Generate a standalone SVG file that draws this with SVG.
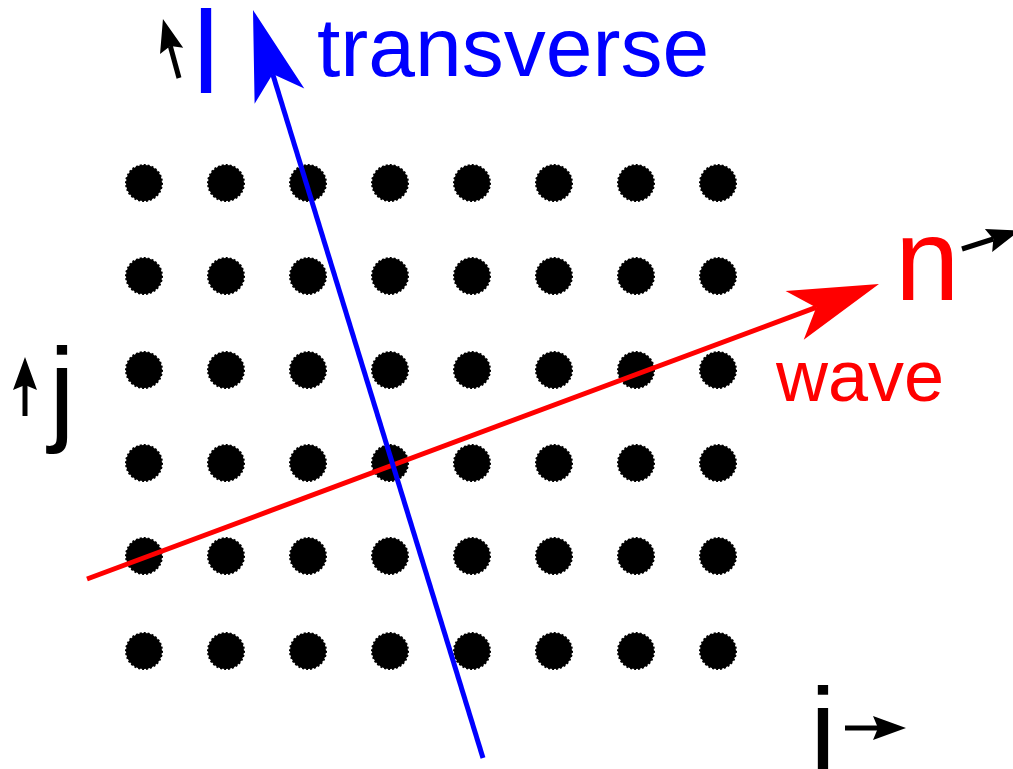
<svg xmlns="http://www.w3.org/2000/svg" width="1013" height="769" viewBox="0 0 1013 769">
<style>
.dot{fill:#000;stroke:#000;stroke-width:2;stroke-dasharray:2 2}
.lbl{font-family:"Liberation Sans",Arial,sans-serif}
.small{stroke:#000;stroke-width:5;fill:none}
</style>
<defs>
<marker id="bigRed" markerUnits="userSpaceOnUse" orient="auto" markerWidth="1" markerHeight="1" refX="0" refY="0" overflow="visible">
<path d="M0,0 L-23,-26 L67,0 L-23,26 Z" fill="#f00"/>
</marker>
<marker id="bigBlue" markerUnits="userSpaceOnUse" orient="auto" markerWidth="1" markerHeight="1" refX="0" refY="0" overflow="visible">
<path d="M0,0 L-23,-26 L67,0 L-23,26 Z" fill="#00f"/>
</marker>
<marker id="smallBlack" markerUnits="userSpaceOnUse" orient="auto" markerWidth="1" markerHeight="1" refX="0" refY="0" overflow="visible">
<path d="M0,0 L-5,-12 L28,0 L-5,12 Z" fill="#000"/>
</marker>
</defs>
<rect width="1013" height="769" fill="#fff"/>
<g id="lattice">
<circle class="dot" cx="144" cy="183" r="18"/><circle class="dot" cx="226" cy="183" r="18"/><circle class="dot" cx="308" cy="183" r="18"/><circle class="dot" cx="390" cy="183" r="18"/><circle class="dot" cx="472" cy="183" r="18"/><circle class="dot" cx="554" cy="183" r="18"/><circle class="dot" cx="636" cy="183" r="18"/><circle class="dot" cx="718" cy="183" r="18"/>
<circle class="dot" cx="144" cy="276" r="18"/><circle class="dot" cx="226" cy="276" r="18"/><circle class="dot" cx="308" cy="276" r="18"/><circle class="dot" cx="390" cy="276" r="18"/><circle class="dot" cx="472" cy="276" r="18"/><circle class="dot" cx="554" cy="276" r="18"/><circle class="dot" cx="636" cy="276" r="18"/><circle class="dot" cx="718" cy="276" r="18"/>
<circle class="dot" cx="144" cy="370" r="18"/><circle class="dot" cx="226" cy="370" r="18"/><circle class="dot" cx="308" cy="370" r="18"/><circle class="dot" cx="390" cy="370" r="18"/><circle class="dot" cx="472" cy="370" r="18"/><circle class="dot" cx="554" cy="370" r="18"/><circle class="dot" cx="636" cy="370" r="18"/><circle class="dot" cx="718" cy="370" r="18"/>
<circle class="dot" cx="144" cy="463" r="18"/><circle class="dot" cx="226" cy="463" r="18"/><circle class="dot" cx="308" cy="463" r="18"/><circle class="dot" cx="390" cy="463" r="18"/><circle class="dot" cx="472" cy="463" r="18"/><circle class="dot" cx="554" cy="463" r="18"/><circle class="dot" cx="636" cy="463" r="18"/><circle class="dot" cx="718" cy="463" r="18"/>
<circle class="dot" cx="144" cy="556" r="18"/><circle class="dot" cx="226" cy="556" r="18"/><circle class="dot" cx="308" cy="556" r="18"/><circle class="dot" cx="390" cy="556" r="18"/><circle class="dot" cx="472" cy="556" r="18"/><circle class="dot" cx="554" cy="556" r="18"/><circle class="dot" cx="636" cy="556" r="18"/><circle class="dot" cx="718" cy="556" r="18"/>
<circle class="dot" cx="144" cy="651" r="18"/><circle class="dot" cx="226" cy="651" r="18"/><circle class="dot" cx="308" cy="651" r="18"/><circle class="dot" cx="390" cy="651" r="18"/><circle class="dot" cx="472" cy="651" r="18"/><circle class="dot" cx="554" cy="651" r="18"/><circle class="dot" cx="636" cy="651" r="18"/><circle class="dot" cx="718" cy="651" r="18"/>
</g>
<g id="connectors">
<line x1="87" y1="579" x2="816.2" y2="307.4" stroke="#f00" stroke-width="5" marker-end="url(#bigRed)"/>
<line x1="483" y1="758" x2="272.7" y2="74.1" stroke="#00f" stroke-width="5" marker-end="url(#bigBlue)"/>
<line class="small" x1="179" y1="78" x2="170.3" y2="46" marker-end="url(#smallBlack)"/>
<line class="small" x1="25" y1="416" x2="25" y2="385" marker-end="url(#smallBlack)"/>
<line class="small" x1="845" y1="728" x2="878" y2="728" marker-end="url(#smallBlack)"/>
<line class="small" x1="962" y1="249" x2="993.3" y2="239" marker-end="url(#smallBlack)"/>
</g>
<g id="labels">
<text class="lbl" x="193" y="93" font-size="117" fill="#00f">l</text>
<text class="lbl" x="317" y="76" font-size="84" fill="#00f">transverse</text>
<text class="lbl" x="895" y="300" font-size="116" fill="#f00">n</text>
<text class="lbl" x="776" y="401" font-size="72" fill="#f00">wave</text>
<text class="lbl" x="49" y="430" font-size="117" fill="#000">j</text>
<text class="lbl" x="810" y="770" font-size="117" fill="#000">i</text>
</g>
</svg>
